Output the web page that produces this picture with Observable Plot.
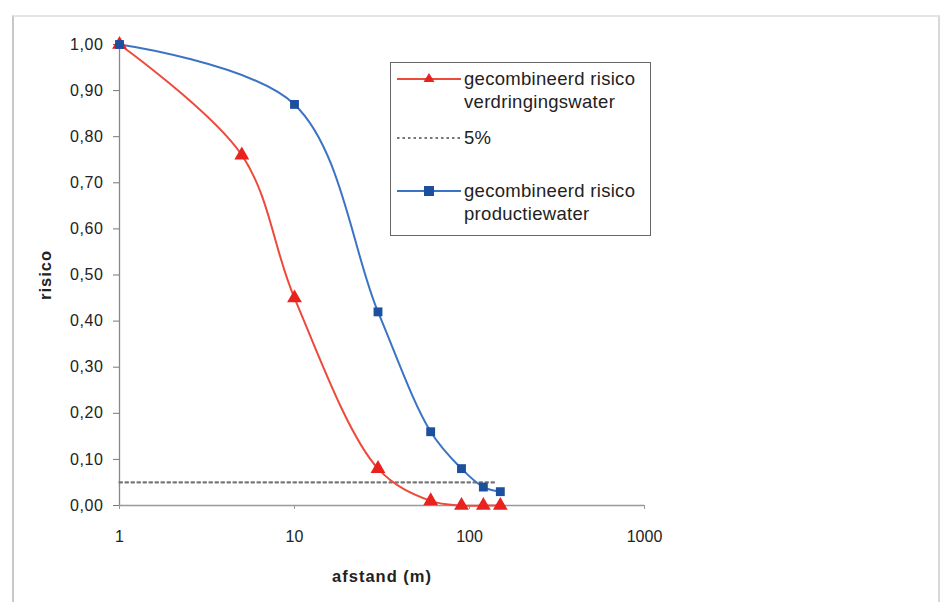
<!DOCTYPE html>
<html>
<head>
<meta charset="utf-8">
<script src="https://cdn.jsdelivr.net/npm/d3@7"></script>
<script src="https://cdn.jsdelivr.net/npm/@observablehq/plot@0.6"></script>
<style>
  html, body { margin: 0; padding: 0; background: #fff; }
  #wrap { position: relative; width: 942px; height: 602px; overflow: hidden; font-family: "Liberation Sans", Arial, sans-serif; }
  #border { position: absolute; left: 12px; top: 15px; width: 924px; height: 600px; border-left: 2px solid #c8c8c8; border-top: 2px solid #e4e4e4; border-right: 2px solid #d8d8d8; }
  #legend { position: absolute; left: 390px; top: 62px; width: 259px; height: 172px; border: 1.5px solid #666; background: #fff; font-size: 18.5px; color: #222; }
  .item { position: absolute; left: 4px; }
  .item svg { position: absolute; left: 0; top: 0; }
  .item .t { position: absolute; left: 69px; top: -12px; line-height: 23px; white-space: nowrap; letter-spacing: 0.3px; }
</style>
</head>
<body>
<div id="wrap">
  <div id="border"></div>
  <div id="chart"></div>
  <div id="legend">
    <div class="item" style="top:16px">
      <svg width="68" height="14" style="top:-7px"><line x1="2" y1="7" x2="66" y2="7" stroke="#ee4a3c" stroke-width="2"/><path d="M34,1 L39.5,10 L28.5,10 Z" fill="#e8231f"/></svg>
      <div class="t">gecombineerd risico<br>verdringingswater</div>
    </div>
    <div class="item" style="top:75px">
      <svg width="68" height="14" style="top:-7px"><line x1="2" y1="7" x2="66" y2="7" stroke="#777" stroke-width="2" stroke-dasharray="2.5,3"/></svg>
      <div class="t">5%</div>
    </div>
    <div class="item" style="top:128px">
      <svg width="68" height="14" style="top:-7px"><line x1="2" y1="7" x2="66" y2="7" stroke="#3a74c4" stroke-width="2"/><rect x="29" y="2" width="10" height="10" fill="#1c4f9e"/></svg>
      <div class="t">gecombineerd risico<br>productiewater</div>
    </div>
  </div>
</div>
<script>
// Data
const afstandVerdringing = [1, 5, 10, 30, 60, 90, 120, 150];
const risicoVerdringing  = [1.00, 0.76, 0.45, 0.08, 0.01, 0.00, 0.00, 0.00];
const afstandProductie   = [1, 10, 30, 60, 90, 120, 150];
const risicoProductie    = [1.00, 0.87, 0.42, 0.16, 0.08, 0.04, 0.03];
const grensAfstand = [1, 140];
const grensRisico  = [0.05, 0.05];
const xTicks = [1, 10, 100, 1000];
const yTicks = [0, 0.1, 0.2, 0.3, 0.4, 0.5, 0.6, 0.7, 0.8, 0.9, 1.0];

const verdringing = afstandVerdringing.map((x, i) => ({x, y: risicoVerdringing[i]}));
const productie = afstandProductie.map((x, i) => ({x, y: risicoProductie[i]}));
const grens = grensAfstand.map((x, i) => ({x, y: grensRisico[i]}));

const fmt = d => d.toFixed(2).replace(".", ",");

const chart = Plot.plot({
  width: 942,
  height: 602,
  marginLeft: 119,
  marginRight: 298,
  marginTop: 44,
  marginBottom: 97,
  style: {fontFamily: "Liberation Sans, Arial, sans-serif", fontSize: "16px", color: "#222", background: "transparent"},
  x: {type: "log", domain: [1, 1000]},
  y: {domain: [0, 1]},
  marks: [
    Plot.axisY({ticks: yTicks, tickFormat: fmt, tickSize: 6, tickPadding: 10, stroke: "#777", fontSize: 16,
      label: "risico", labelAnchor: "center", labelArrow: "none", labelOffset: 80}),
    Plot.axisX({ticks: xTicks, tickFormat: d => String(d), tickSize: 4, tickPadding: 21, stroke: "#999", fontSize: 16,
      label: "afstand (m)", labelAnchor: "center", labelArrow: "none", labelOffset: 76}),
    Plot.ruleX([1], {y1: 0, y2: 1, stroke: "#888", strokeWidth: 1.3}),
    Plot.ruleY([0], {x1: 1, x2: 1000, stroke: "#999", strokeWidth: 1.3}),
    Plot.line(grens, {x: "x", y: "y", stroke: "#777", strokeWidth: 2.2, strokeDasharray: "2.5,3.5"}),
    Plot.line(verdringing, {x: "x", y: "y", stroke: "#ee4a3c", strokeWidth: 2, curve: "catmull-rom"}),
    Plot.line(productie, {x: "x", y: "y", stroke: "#3a74c4", strokeWidth: 2, curve: "catmull-rom"}),
    Plot.dot(verdringing, {x: "x", y: "y", symbol: "triangle", r: 5.5, fill: "#e8231f"}),
    Plot.dot(productie, {x: "x", y: "y", symbol: "square", r: 5, fill: "#1c4f9e"})
  ]
});
chart.style.position = "absolute";
chart.style.left = "0";
chart.style.top = "0";
chart.querySelectorAll("[aria-label='y-axis tick label'] text").forEach(t => {
  t.style.letterSpacing = "0.6px";
});
chart.querySelectorAll("[aria-label='y-axis label'] text, [aria-label='x-axis label'] text").forEach(t => {
  t.style.fontWeight = "bold";
  t.style.fontSize = "16.5px";
  t.style.letterSpacing = "1px";
});
document.getElementById("chart").appendChild(chart);
</script>
</body>
</html>
